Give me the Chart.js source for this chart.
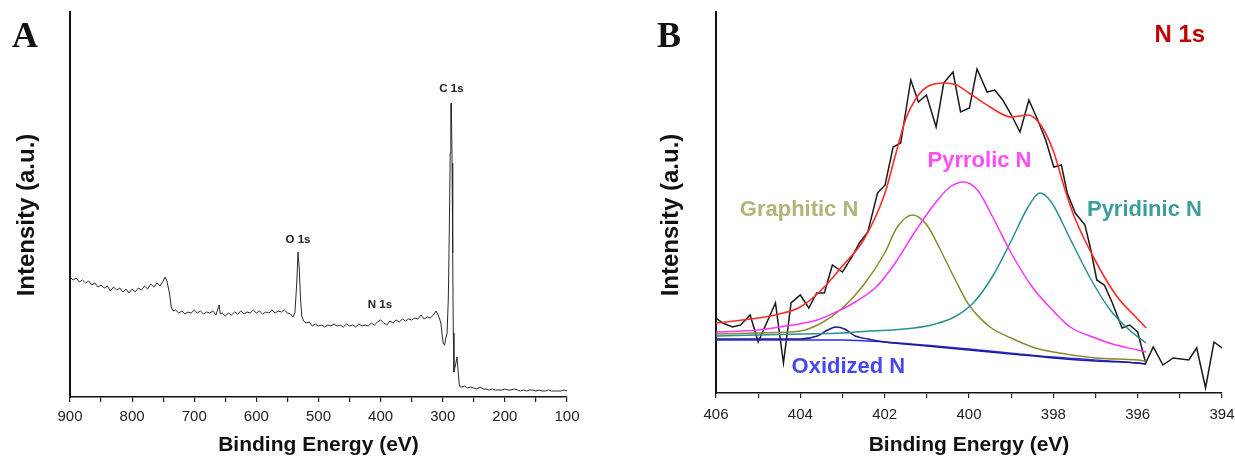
<!DOCTYPE html>
<html>
<head>
<meta charset="utf-8">
<script src="https://cdn.jsdelivr.net/npm/chart.js@4.4.1/dist/chart.umd.min.js"></script>
<style>
  body { margin: 0; background: #fff; }
  #wrap { position: relative; width: 1235px; height: 456px; overflow: hidden; }
  canvas { position: absolute; top: 0; }
  #chartA { left: 0; }
  #chartB { left: 617px; }
  .panel { position: absolute; top: 17px; font: bold 36px "Liberation Serif", serif; color: #111; line-height: 36px; }
</style>
</head>
<body>
<div id="wrap">
  <canvas id="chartA" width="617" height="456"></canvas>
  <canvas id="chartB" width="618" height="456"></canvas>
  <div class="panel" style="left:12px">A</div>
  <div class="panel" style="left:657px">B</div>
</div>
<script>
// survey spectrum (panel A)
const surveyEnergy = [
  900,895,890,885,880,875,870,865,860,855,850,845,840,835,830,825,820,815,810,805,
  800,795,790,785,780,775,770,765,760,755,750,747,744,740,737,734,730,725,720,715,710,705,
  700,695,690,685,680,675,670,665,660,658,655,650,645,640,635,630,625,620,615,610,605,
  600,595,590,585,580,575,570,565,560,555,550,545,541,538,535,533,531,529,527,524,520,515,510,505,
  500,495,490,485,480,475,470,465,460,455,450,445,440,435,430,425,420,415,410,405,
  400,395,390,385,380,375,370,365,360,355,350,345,340,335,330,325,320,315,
  311,308,305,303,301,299,297,295,293,291,289.5,288,287,286.5,286,285,284,283,282,279.5,277,275,273.5,272,
  270,265,260,255,250,245,240,235,230,225,220,215,210,205,
  200,195,190,185,180,175,170,165,160,155,150,145,140,135,130,125,120,115,110,105,100];
const surveyCounts = [
  116,113,115,111,113,110,112,108,110,106,108,105,107,102,106,103,105,101,104,100,
  104,101,105,103,107,104,109,106,110,107,112,116,112,100,86,82,83,80,82,79,81,80,
  83,80,82,79,81,80,82,78,88,79,80,77,80,78,81,79,82,79,81,80,83,
  80,82,79,81,80,83,80,82,81,83,80,79,76,80,110,141,125,95,77,72,70,71,67,69,
  67,68,66,68,67,69,67,68,66,69,67,68,66,69,67,68,67,70,68,71,
  73,70,68,72,70,73,71,74,72,74,73,75,74,78,74,76,75,78,
  82,79,74,70,58,49,48,55,60,95,160,240,285,290,280,230,140,60,21,28,36,20,9,6,
  6,7,5,6,5,4,6,4,4,3,4,3,3,3,
  4,3,3,4,3,2,3,2,3,3,2,3,2,2,3,2,2,2,2,3,2];
const surveyTicks = [900,800,700,600,500,400,300,200,100];
const surveyPeaks = ['C 1s', 'O 1s', 'N 1s'];

// N 1s high resolution (panel B)
const rawEnergy = [406,405.84,405.61,405.42,405.19,405.0,404.59,404.4,404.22,404.0,403.8,403.61,403.43,403.24,403.0,
  402.78,402.6,402.4,402.17,401.99,401.8,401.62,401.38,401.2,401.01,400.78,400.6,400.38,400.2,399.99,
  399.81,399.57,399.39,399.2,399.02,398.79,398.58,398.37,398.18,397.99,397.81,397.67,397.48,397.25,397.11,
  396.97,396.79,396.6,396.37,396.19,396.0,395.81,395.63,395.4,395.16,394.79,394.6,394.39,394.19,394.0];
const rawCounts = [75,70,66,68,78,51,90,30,90,98,85,100,100,128,121,
  136,150,161,200,208,246,250,313,291,298,266,310,321,281,285,
  324,301,303,293,280,261,293,273,253,226,228,200,180,168,143,
  113,108,90,65,68,61,30,46,28,35,33,45,5,51,45];

const envEnergy = [406,405,404.5,404,403.5,403,402.5,402,401.75,401.5,401.25,401,400.6,400.3,400,399.5,399,398.6,398.3,398,397.75,397.5,397,396.5,396,395.8];
const envelope = [70,75,79,86,103,127,153,199,237,274,295,306,310,308,300,286,276,278,268,242,207,176,132,97,74,65];

const graphEnergy = [406,405,404,403.5,403,402.5,402,401.7,401.34,401,400.7,400.3,400,399.5,399,398.5,398,397,396,395.8];
const graphitic = [59,60,62,70,85,108,140,166,178,168,145,111,88,66,55,46,41,35,33,32];

const pyrrEnergy = [406,405,404.5,403.6,403,402.7,402.2,401.75,401.3,400.8,400.45,400.13,399.8,399.45,399,398.5,398,397.6,397,396.6,396,395.8];
const pyrrolic = [61,63,66,73,84,91,106,130,160,190,206,211,203,177,140,106,82,66,55,49,43,41];

const pyriEnergy = [406,405,404,403,402.7,401.3,400.8,400.35,399.9,399.45,399,398.6,398.32,398.05,397.6,397.1,396.65,396.2,395.8];
const pyridinic = [57,58,59,60,61,65,69,76,90,116,152,186,200,191,154,113,83,63,50];

const oxEnergy = [406,405,404,403.6,403.35,403.15,402.95,402.7,402.4,402,401,400,399,398,397,396,395.8];
const oxidized = [54,54,54,57,63,66,64,57,54,51,47,43,39,35,32,30,29];

const bgEnergy = [406,403,402,400,398,396,395.8];
const background = [53,53,51,44,36,30,29];

const n1sTicks = [406,404,402,400,398,396,394];
const componentNames = ['Graphitic N', 'Pyrrolic N', 'Pyridinic N', 'Oxidized N'];

const pts = (xs, ys) => xs.map((x, i) => ({x: x, y: ys[i]}));

const notesPlugin = {
  id: 'notes',
  afterDraw(chart, args, opts) {
    const ctx = chart.ctx;
    const sx = chart.scales.x, sy = chart.scales.y;
    ctx.save();
    ctx.textAlign = 'center';
    ctx.textBaseline = 'middle';
    (opts.items || []).forEach(it => {
      ctx.font = it.font;
      ctx.fillStyle = it.color;
      ctx.fillText(it.text, sx.getPixelForValue(it.x), sy.getPixelForValue(it.y));
    });
    if (opts.yTitle) {
      ctx.translate(opts.yTitle.x, opts.yTitle.y);
      ctx.rotate(-Math.PI / 2);
      ctx.font = 'bold 24px "Liberation Sans", Arial, sans-serif';
      ctx.fillStyle = '#111';
      ctx.fillText(opts.yTitle.text, 0, 0);
    }
    ctx.restore();
  }
};

function axes(min, max, step, labelled, yWidth, xHeight, yMin, tickPad) {
  return {
    x: {
      type: 'linear', min: min, max: max, reverse: true,
      afterFit: s => { s.height = xHeight; },
      afterBuildTicks: s => { s.ticks = []; for (let v = min; v <= max + 1e-9; v += step) s.ticks.push({value: +v.toFixed(3)}); },
      ticks: {
        color: '#222', padding: tickPad, maxRotation: 0, autoSkip: false,
        font: {family: '"Liberation Sans", Arial, sans-serif', size: 15},
        callback: v => labelled.includes(Math.round(v * 1000) / 1000) ? String(v) : ''
      },
      grid: {display: true, drawOnChartArea: false, drawTicks: true, tickLength: 5, color: '#222', lineWidth: 1.2},
      border: {display: true, color: '#111', width: 1.5},
      title: {display: true, text: 'Binding Energy (eV)', color: '#111', padding: 0,
        font: {family: '"Liberation Sans", Arial, sans-serif', size: 21, weight: 'bold', lineHeight: 1}}
    },
    y: {
      type: 'linear', min: yMin, max: 381,
      afterFit: s => { s.width = yWidth; },
      ticks: {display: false},
      grid: {display: false},
      border: {display: true, color: '#111', width: 2}
    }
  };
}

const base = {
  responsive: false, animation: false, events: [],
  elements: {point: {radius: 0}},
  plugins: {legend: {display: false}, tooltip: {enabled: false}}
};

new Chart(document.getElementById('chartA'), {
  type: 'line',
  data: {
    datasets: [{data: pts(surveyEnergy, surveyCounts), borderColor: '#2a2a2a', borderWidth: 1, tension: 0}]
  },
  options: Object.assign({}, base, {
    layout: {padding: {top: 12, right: 50, left: 0, bottom: 0}},
    scales: axes(100, 900, 50, surveyTicks, 70, 59, -4, 6),
    plugins: Object.assign({}, base.plugins, {
      notes: {
        yTitle: {text: 'Intensity (a.u.)', x: 27, y: 215},
        items: [
          {text: surveyPeaks[0], x: 286, y: 304, color: '#222', font: 'bold 11.5px "Liberation Sans", Arial, sans-serif'},
          {text: surveyPeaks[1], x: 533, y: 153, color: '#222', font: 'bold 11.5px "Liberation Sans", Arial, sans-serif'},
          {text: surveyPeaks[2], x: 401, y: 88, color: '#222', font: 'bold 11.5px "Liberation Sans", Arial, sans-serif'}
        ]
      }
    })
  }),
  plugins: [notesPlugin]
});

const lbl = 'bold 22px "Liberation Sans", Arial, sans-serif';
new Chart(document.getElementById('chartB'), {
  type: 'line',
  data: {
    datasets: [
      {data: pts(envEnergy, envelope), borderColor: '#ff2b2b', borderWidth: 1.6, cubicInterpolationMode: 'monotone'},
      {data: pts(pyrrEnergy, pyrrolic), borderColor: '#ff33ff', borderWidth: 1.5, cubicInterpolationMode: 'monotone'},
      {data: pts(pyriEnergy, pyridinic), borderColor: '#2b8f8f', borderWidth: 1.5, cubicInterpolationMode: 'monotone'},
      {data: pts(graphEnergy, graphitic), borderColor: '#8a8a30', borderWidth: 1.5, cubicInterpolationMode: 'monotone'},
      {data: pts(oxEnergy, oxidized), borderColor: '#1c1c8c', borderWidth: 1.5, cubicInterpolationMode: 'monotone'},
      {data: pts(bgEnergy, background), borderColor: '#2a2aff', borderWidth: 1.3, cubicInterpolationMode: 'monotone'},
      {data: pts(rawEnergy, rawCounts), borderColor: '#1a1a1a', borderWidth: 1.5, tension: 0}
    ]
  },
  options: Object.assign({}, base, {
    layout: {padding: {top: 12, right: 13, left: 0, bottom: 0}},
    scales: axes(394, 406, 1, n1sTicks, 99, 63, 0, 8),
    plugins: Object.assign({}, base.plugins, {
      notes: {
        yTitle: {text: 'Intensity (a.u.)', x: 54, y: 215},
        items: [
          {text: 'N 1s', x: 395.0, y: 358, color: '#c00000', font: 'bold 24px "Liberation Sans", Arial, sans-serif'},
          {text: componentNames[0], x: 404.03, y: 183, color: '#b3b37a', font: lbl},
          {text: componentNames[1], x: 399.75, y: 232, color: '#ff4dff', font: lbl},
          {text: componentNames[2], x: 395.84, y: 183, color: '#3d9c9c', font: lbl},
          {text: componentNames[3], x: 402.86, y: 26, color: '#4848f0', font: lbl}
        ]
      }
    })
  }),
  plugins: [notesPlugin]
});
</script>
</body>
</html>
